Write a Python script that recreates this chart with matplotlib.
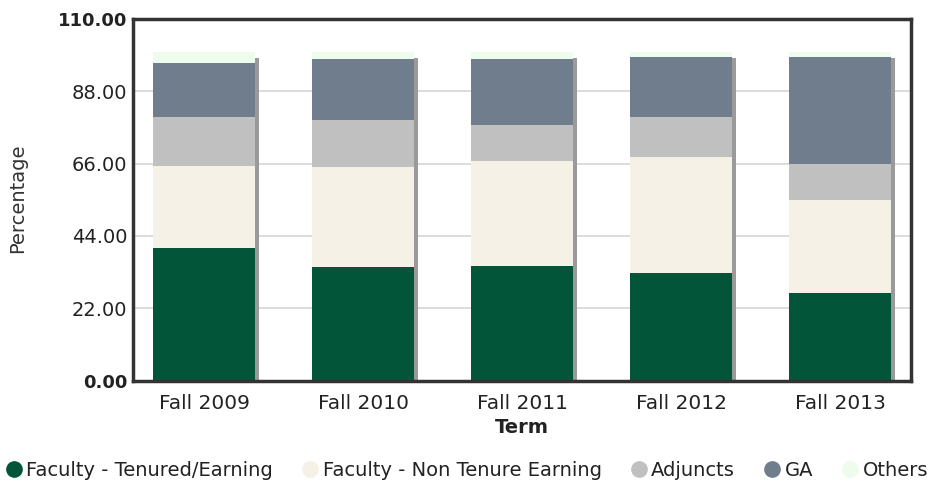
import matplotlib
matplotlib.use("Agg")
import matplotlib.pyplot as plt
from matplotlib.lines import Line2D
import numpy as np

terms = ["Fall 2009", "Fall 2010", "Fall 2011", "Fall 2012", "Fall 2013"]
tenured = [40.3, 34.4, 34.7, 32.7, 26.6]
non_tenure = [25.1, 30.6, 32.0, 35.3, 28.4]
adjuncts = [14.8, 14.2, 10.9, 12.2, 10.9]
ga = [16.4, 18.5, 20.3, 18.3, 32.4]
others = [3.4, 2.3, 2.1, 1.5, 1.7]

series_names = ["Faculty - Tenured/Earning", "Faculty - Non Tenure Earning",
                "Adjuncts", "GA", "Others"]
colors = ["#03553A", "#F5F1E6", "#C0C0C0", "#6F7D8C", "#EEFCEE"]
yticks = [0, 22, 44, 66, 88, 110]

plt.rcParams['font.family'] = ['DejaVu Sans']

fig = plt.figure(figsize=(9.35, 4.83), dpi=100)
ax = fig.add_axes([133/935, 1-380.5/483, (911-133)/935, (380.5-19)/483])

x = np.arange(len(terms))
w = 0.642
data = [tenured, non_tenure, adjuncts, ga, others]
totals = np.sum(np.array(data), axis=0)

# shadow
sh_w = 0.027
ax.bar(x + w/2 + sh_w/2 - 0.004, totals - 1.2, width=sh_w, bottom=-0.6,
       color="#9a9a9a", zorder=1, clip_on=False)

bottom = np.zeros(len(terms))
for vals, c, name in zip(data, colors, series_names):
    ax.bar(x, vals, width=w, bottom=bottom, color=c, zorder=2, label=name,
           linewidth=0)
    bottom += np.array(vals)

ax.set_xlim(-0.45, 4.447)
ax.set_ylim(0, 110)
ax.set_yticks(yticks)
ax.set_yticklabels([f"{v:.2f}" for v in yticks])
ax.set_xticks(x)
ax.set_xticklabels(terms)
ax.tick_params(axis="y", length=0, pad=4, labelsize=14, labelcolor="#222222")
ax.tick_params(axis="x", length=0, pad=10, labelsize=14.5, labelcolor="#222222")
for i, lab in enumerate(ax.get_yticklabels()):
    if i == 0 or i == len(yticks) - 1:
        lab.set_fontweight("bold")
        lab.set_fontsize(13)
ax.grid(axis="y", color="#d6d6d6", linewidth=1.2)
ax.set_axisbelow(True)
for s in ax.spines.values():
    s.set_color("#333333")
    s.set_linewidth(2.5)

ax.set_xlabel("Term", fontsize=14, fontweight="bold", color="#222222")
ax.xaxis.set_label_coords(0.5, (380.5-418)/361.5)
ax.set_ylabel("Percentage", fontsize=14, color="#333333")
ax.yaxis.set_label_coords((27-133)/778, (380.5-198)/361.5)

handles = [Line2D([], [], marker="o", linestyle="none", markersize=11,
                  markerfacecolor=c, markeredgecolor=c) for c in colors]
fig.legend(handles, series_names, loc="center left",
           bbox_to_anchor=(6/935, 1-470/483),
           ncol=5, frameon=False, fontsize=14, handletextpad=0.25,
           columnspacing=1.5, handlelength=0.8, borderpad=0, borderaxespad=0,
           labelcolor="#222222")

fig.savefig("out.png", dpi=100)
